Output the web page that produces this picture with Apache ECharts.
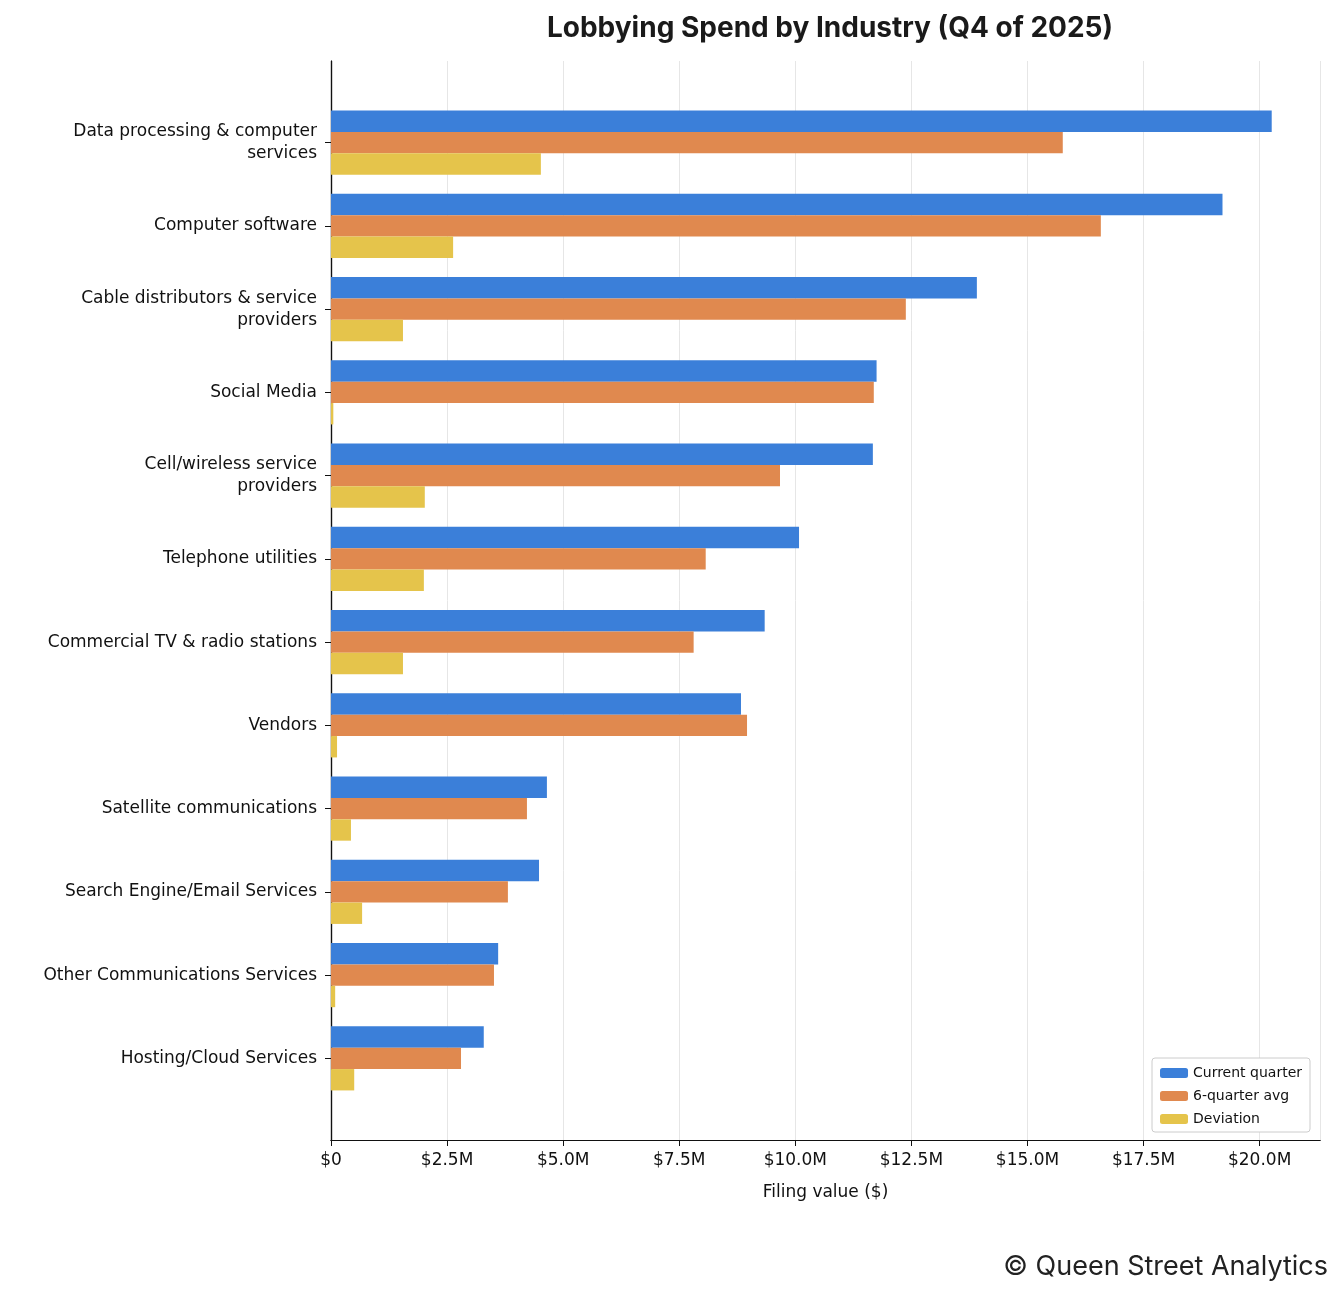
<!DOCTYPE html>
<html>
<head>
<meta charset="utf-8">
<script src="https://cdn.jsdelivr.net/npm/echarts@6/dist/echarts.min.js"></script>
<style>
html, body { margin: 0; padding: 0; background: #fff; }
#chart { width: 1344px; height: 1296px; }
</style>
</head>
<body>
<div id="chart"></div>
<script>
// industries, top to bottom
var industries = [
	'Data processing & computer\nservices',
	'Computer software',
	'Cable distributors & service\nproviders',
	'Social Media',
	'Cell/wireless service\nproviders',
	'Telephone utilities',
	'Commercial TV & radio stations',
	'Vendors',
	'Satellite communications',
	'Search Engine/Email Services',
	'Other Communications Services',
	'Hosting/Cloud Services'
];
// values in $M
var currentQuarter = [20.26, 19.20, 13.91, 11.75, 11.67, 10.08, 9.34, 8.83, 4.65, 4.48, 3.60, 3.29];
var sixQuarterAvg = [15.76, 16.58, 12.38, 11.69, 9.67, 8.07, 7.81, 8.96, 4.22, 3.81, 3.51, 2.80];
var deviation = [4.52, 2.63, 1.55, 0.05, 2.02, 2.00, 1.55, 0.13, 0.43, 0.67, 0.09, 0.50];

var labelFont = 'DejaVu Sans';
var xMax = 21.3;

var chart = echarts.init(document.getElementById('chart'));
var lineStyle = { color: '#111', width: 1.2 };
var option = {
	animation: false,
	textStyle: { fontFamily: labelFont },
	title: {
		text: 'Lobbying Spend by Industry (Q4 of 2025)',
		left: 825, top: 10, textAlign: 'center',
		textStyle: { fontFamily: 'Inter', fontSize: 28, fontWeight: 'bold', color: '#1a1a1a' }
	},
	graphic: [{
		type: 'text', right: 16, bottom: 16,
		style: { text: '© Queen Street Analytics', font: '27px Inter', fill: '#222' }
	}],
	legend: {
		orient: 'vertical',
		right: 34, bottom: 164,
		itemWidth: 28, itemHeight: 10, itemGap: 9,
		padding: [8, 8, 6, 8],
		borderColor: '#ccc', borderWidth: 1, borderRadius: 3,
		backgroundColor: '#fff',
		textStyle: { fontFamily: labelFont, fontSize: 14, color: '#111' },
		data: ['Current quarter', '6-quarter avg', 'Deviation']
	},
	// grid 0: frame + value axis; grid 1: bars (inset by half a band top and bottom)
	grid: [
		{ left: 331, right: 24, top: 61, bottom: 156 },
		{ left: 331, right: 24, top: 101, bottom: 196 }
	],
	xAxis: [{
		gridIndex: 0, type: 'value', min: 0, max: xMax, interval: 2.5,
		name: 'Filing value ($)', nameLocation: 'middle', nameGap: 44,
		nameTextStyle: { fontSize: 17, color: '#111' },
		axisLine: { show: true, lineStyle: lineStyle },
		axisTick: { show: true, length: 6, lineStyle: { color: '#111' } },
		axisLabel: {
			fontSize: 17, color: '#111', margin: 12, showMaxLabel: false,
			formatter: function (v) { return v === 0 ? '$0' : '$' + v.toFixed(1) + 'M'; }
		},
		splitLine: { show: true, lineStyle: { color: '#e6e6e6' } }
	}, {
		gridIndex: 0, type: 'value', position: 'top', min: 0, max: xMax,
		axisLine: { show: true, lineStyle: lineStyle },
		axisTick: { show: false }, axisLabel: { show: false }, splitLine: { show: false }
	}, {
		gridIndex: 1, type: 'value', min: 0, max: xMax, show: false
	}],
	yAxis: [{
		gridIndex: 0, type: 'value', min: 0, max: 1,
		axisLine: { show: true, lineStyle: lineStyle },
		axisTick: { show: false }, axisLabel: { show: false }, splitLine: { show: false }
	}, {
		gridIndex: 0, type: 'value', position: 'right', min: 0, max: 1,
		axisLine: { show: true, lineStyle: lineStyle },
		axisTick: { show: false }, axisLabel: { show: false }, splitLine: { show: false }
	}, {
		gridIndex: 1, type: 'category', inverse: true, data: industries,
		axisLine: { show: false },
		axisTick: { show: true, alignWithLabel: true, length: 6, lineStyle: { color: '#111' } },
		axisLabel: { fontSize: 17, color: '#111', margin: 14, align: 'right', lineHeight: 22 }
	}],
	series: [
		{ name: 'Current quarter', type: 'bar', xAxisIndex: 2, yAxisIndex: 2, data: currentQuarter,
			itemStyle: { color: '#3b7fd9' }, barGap: '0%', barCategoryGap: '23%' },
		{ name: '6-quarter avg', type: 'bar', xAxisIndex: 2, yAxisIndex: 2, data: sixQuarterAvg,
			itemStyle: { color: '#e0894f' }, barGap: '0%', barCategoryGap: '23%' },
		{ name: 'Deviation', type: 'bar', xAxisIndex: 2, yAxisIndex: 2, data: deviation,
			itemStyle: { color: '#e5c44b' }, barGap: '0%', barCategoryGap: '23%' }
	]
};
chart.setOption(option);
</script>
</body>
</html>
